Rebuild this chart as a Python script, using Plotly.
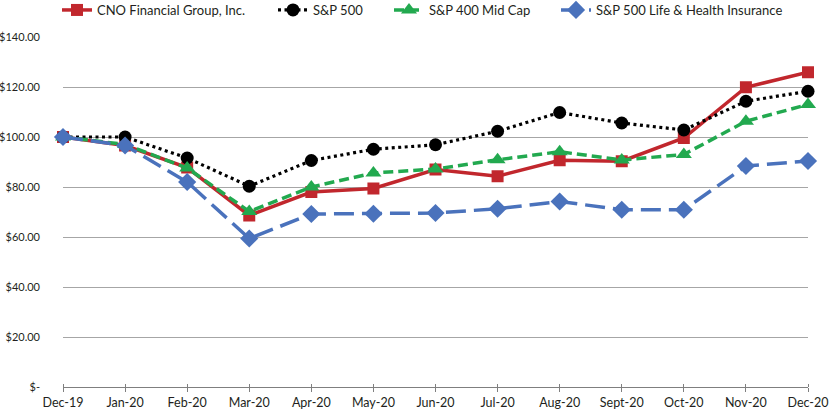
import plotly.graph_objects as go

months = ["Dec-19", "Jan-20", "Feb-20", "Mar-20", "Apr-20", "May-20", "Jun-20",
          "Jul-20", "Aug-20", "Sept-20", "Oct-20", "Nov-20", "Dec-20"]
cno = [100.0, 96.6, 87.8, 68.6, 78.0, 79.4, 87.0, 84.3, 90.7, 90.3, 99.6, 119.9, 125.9]
sp500 = [100.0, 100.0, 91.6, 80.3, 90.6, 95.1, 96.9, 102.3, 109.8, 105.6, 102.8, 114.3, 118.3]
midcap = [100.0, 97.0, 87.6, 70.2, 80.0, 85.6, 87.2, 90.9, 94.1, 90.8, 93.0, 106.3, 113.0]
life = [100.0, 96.6, 82.0, 59.4, 69.2, 69.3, 69.6, 71.3, 74.2, 70.9, 70.9, 88.4, 90.4]
y_ticks = [0, 20, 40, 60, 80, 100, 120, 140]
y_tick_text = ["$-", "$20.00", "$40.00", "$60.00", "$80.00", "$100.00", "$120.00", "$140.00"]

FONT = "Lato, Liberation Sans, Arial, sans-serif"
TXT = "#231F20"

W, H = 830, 412
ML, MR, MT, MB = 63, 22, 37, 25
PW = W - ML - MR

fig = go.Figure()
fig.add_trace(go.Scatter(
    x=months, y=cno, name="CNO Financial Group, Inc.", mode="lines+markers",
    line=dict(color="#C1272D", width=3.5),
    marker=dict(symbol="square", size=12, color="#C1272D"), cliponaxis=False,
    legend="legend"))
fig.add_trace(go.Scatter(
    x=months, y=sp500, name="S&P 500", mode="lines+markers",
    line=dict(color="#000000", width=3.2, dash="3px,3.5px"),
    marker=dict(symbol="circle", size=13, color="#000000"), cliponaxis=False,
    legend="legend2"))
fig.add_trace(go.Scatter(
    x=months, y=midcap, name="S&P 400 Mid Cap", mode="lines+markers",
    line=dict(color="#22A94F", width=3.5, dash="10px,5px"),
    marker=dict(symbol="triangle-up", size=14, color="#22A94F"), cliponaxis=False,
    legend="legend3"))
fig.add_trace(go.Scatter(
    x=months, y=life, name="S&P 500 Life & Health Insurance", mode="lines+markers",
    line=dict(color="#4A72BC", width=3.5, dash="20px,8px"),
    marker=dict(symbol="diamond", size=14, color="#4A72BC"), cliponaxis=False,
    legend="legend4"))


def leg(px):
    return dict(x=(px - ML) / PW, xanchor="left", xref="paper",
                y=1 - 10 / H, yanchor="middle", yref="container",
                orientation="h", bgcolor="rgba(0,0,0,0)", borderwidth=0,
                font=dict(family=FONT, size=13, color=TXT))


fig.update_layout(
    width=W, height=H,
    margin=dict(l=ML, r=MR, t=MT, b=MB, autoexpand=False),
    paper_bgcolor="white", plot_bgcolor="white",
    font=dict(family=FONT, size=12, color=TXT),
    showlegend=True,
    legend=leg(57), legend2=leg(273), legend3=leg(389), legend4=leg(556),
    xaxis=dict(type="category", range=[0, 12], showgrid=False, zeroline=False,
               showline=True, linecolor="#7F7F7F", linewidth=1,
               ticks="outside", ticklen=4, tickcolor="#7F7F7F", tickwidth=1,
               minor=dict(ticks="inside", ticklen=3, tickcolor="#7F7F7F",
                          tickwidth=1, dtick=1, tick0=0),
               automargin=False,
               tickfont=dict(family=FONT, size=12.5, color=TXT)),
    yaxis=dict(range=[0, 140], tickvals=y_ticks, ticktext=y_tick_text,
               showgrid=True, gridcolor="#A6A6A6", gridwidth=1.3,
               zeroline=False, showline=False, ticks="",
               ticklabelstandoff=22, automargin=False,
               tickfont=dict(family=FONT, size=11, color=TXT)),
)

fig.write_html("out.html", config={"displayModeBar": False},
               post_script="document.body.style.margin='0';")
